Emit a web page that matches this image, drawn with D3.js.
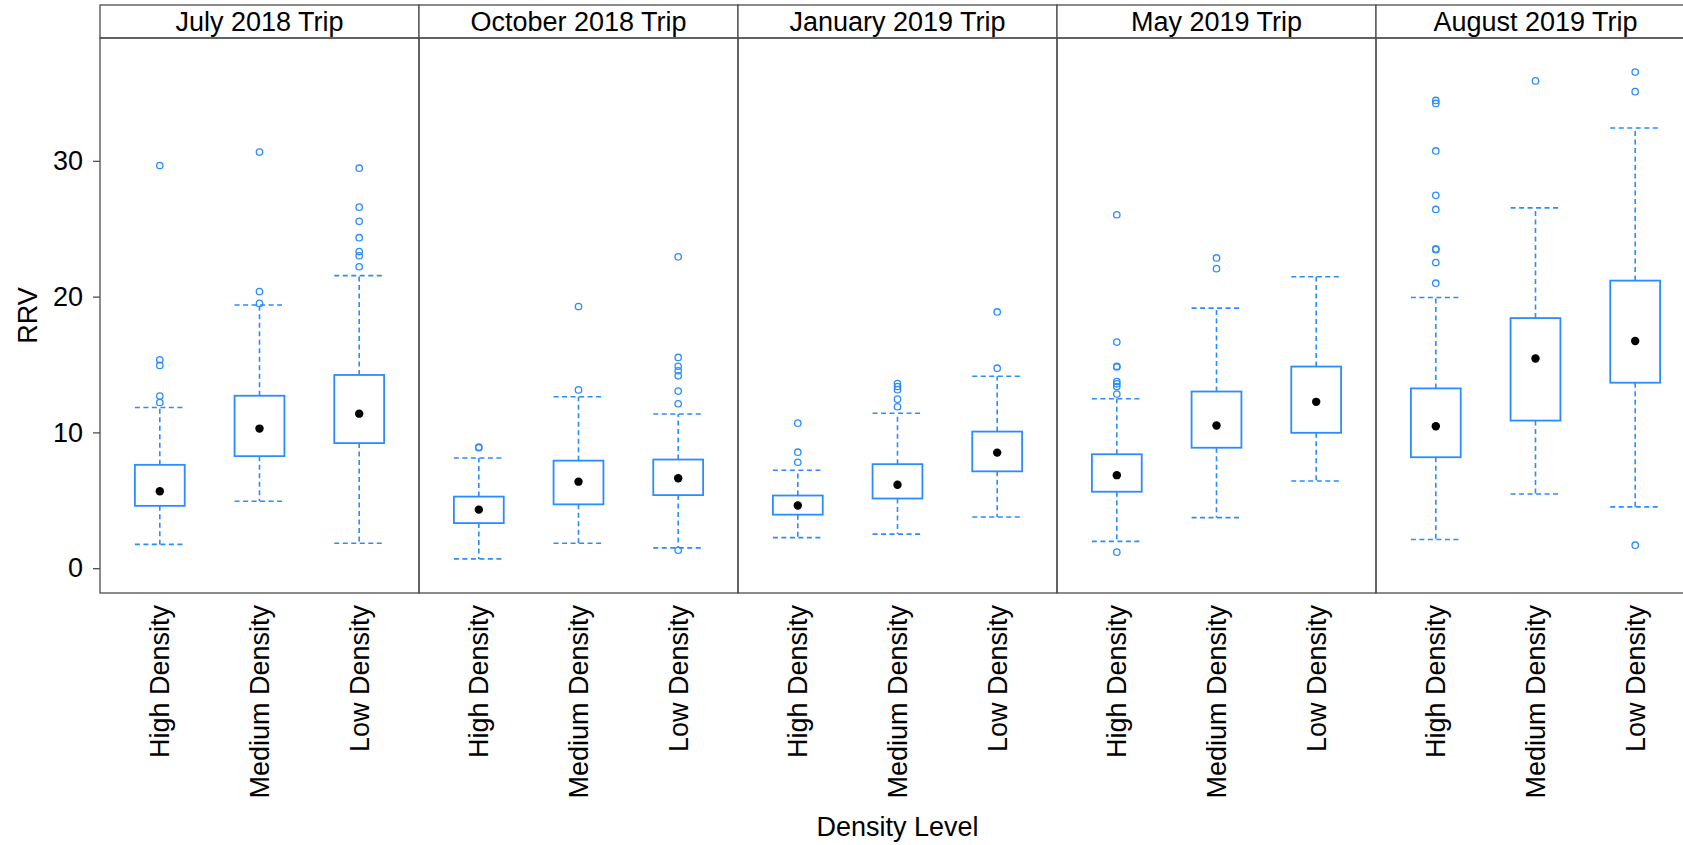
<!DOCTYPE html>
<html>
<head>
<meta charset="utf-8">
<script src="https://cdn.jsdelivr.net/npm/d3@7"></script>
<style>
  body { margin: 0; background: #fff; }
  svg { display: block; overflow: hidden; }
  text { font-family: "Liberation Sans", Arial, sans-serif; fill: #000; }
</style>
</head>
<body>
<div class="chart"></div>
<script>
var trips = ["July 2018 Trip", "October 2018 Trip", "January 2019 Trip", "May 2019 Trip", "August 2019 Trip"];
var densities = ["High Density", "Medium Density", "Low Density"];
var yTicks = [0, 10, 20, 30];

// one row per trip, one value per density level (High, Medium, Low)
var whiskerLow = [
  [1.75, 4.93, 1.83],
  [0.68, 1.83, 1.49],
  [2.25, 2.51, 3.77],
  [1.97, 3.72, 6.42],
  [2.11, 5.46, 4.51]
];
var q1 = [
  [4.59, 8.25, 9.21],
  [3.32, 4.70, 5.38],
  [3.94, 5.13, 7.13],
  [5.63, 8.87, 9.97],
  [8.17, 10.87, 13.66]
];
var medians = [
  [5.66, 10.28, 11.38],
  [4.31, 6.37, 6.62],
  [4.62, 6.14, 8.51],
  [6.85, 10.51, 12.25],
  [10.45, 15.44, 16.73]
];
var q3 = [
  [7.61, 12.70, 14.23],
  [5.27, 7.92, 8.00],
  [5.35, 7.66, 10.06],
  [8.39, 13.01, 14.85],
  [13.24, 18.42, 21.18]
];
var whiskerHigh = [
  [11.83, 19.38, 21.55],
  [8.11, 12.62, 11.35],
  [7.21, 11.41, 14.14],
  [12.48, 19.15, 21.46],
  [19.94, 26.54, 32.42]
];
var outliers = [
  [[29.66, 15.35, 14.93, 12.68, 12.2], [30.65, 20.37, 19.5], [29.46, 26.59, 25.55, 24.34, 23.32, 23.01, 22.2]],
  [[8.87, 8.92], [19.27, 13.13], [22.93, 15.52, 14.87, 14.54, 14.17, 13.04, 12.11, 1.32]],
  [[10.68, 8.54, 7.80], [13.6, 13.38, 13.15, 12.45, 11.89], [18.87, 14.73]],
  [[26.03, 16.65, 14.87, 14.82, 13.75, 13.58, 13.38, 12.82, 1.18], [22.85, 22.06], []],
  [[34.45, 34.23, 30.73, 27.46, 26.42, 23.52, 23.46, 22.51, 20.99], [35.89], [36.54, 35.1, 1.69]]
];

var width = 1683, height = 845;
var margin = { left: 100, top: 5 };
var stripH = 33;
var plotTop = margin.top + stripH, plotBottom = 593;
var panelW = 319;
var blue = "#2b8cff", border = "#4d4d4d";
var fontSize = "27px";

var svg = d3.select(".chart")
    .append("svg")
    .attr("width", width)
    .attr("height", height);

// lattice style: pad the data range by 7% on each side
var allVals = d3.merge([d3.merge(whiskerLow), d3.merge(whiskerHigh), d3.merge(d3.merge(outliers))]);
var ext = d3.extent(allVals);
var pad = (ext[1] - ext[0]) * 0.07;
var y = d3.scaleLinear().domain([ext[0] - pad, ext[1] + pad]).range([plotBottom, plotTop]);

var x = d3.scalePoint().domain(densities).range([0, panelW]).padding(0.6);
var boxW = x.step() * 0.5;

var panels = svg.selectAll("g.panel")
    .data(trips)
    .enter()
    .append("g")
    .attr("class", "panel")
    .attr("transform", function(d, i) { return "translate(" + (margin.left + i * panelW) + ",0)"; });

// strip
panels.append("rect")
    .attr("x", 0).attr("y", margin.top)
    .attr("width", panelW).attr("height", stripH)
    .attr("fill", "#fff")
    .attr("stroke", border).attr("stroke-width", 1.3);
panels.append("text")
    .attr("x", panelW / 2).attr("y", margin.top + 26)
    .attr("text-anchor", "middle")
    .style("font-size", fontSize)
    .text(function(d) { return d; });

// panel frame
panels.append("rect")
    .attr("x", 0).attr("y", plotTop)
    .attr("width", panelW).attr("height", plotBottom - plotTop)
    .attr("fill", "none")
    .attr("stroke", border).attr("stroke-width", 1.3);

panels.each(function(trip, t) {
    var g = d3.select(this);
    densities.forEach(function(dens, k) {
        var cx = x(dens);
        // whiskers
        [[q3[t][k], whiskerHigh[t][k]], [q1[t][k], whiskerLow[t][k]]].forEach(function(w) {
            g.append("line")
                .attr("x1", cx).attr("x2", cx)
                .attr("y1", y(w[0])).attr("y2", y(w[1]))
                .attr("stroke", blue).attr("stroke-width", 1.6)
                .attr("stroke-dasharray", "5,3.5");
            g.append("line")
                .attr("x1", cx - boxW / 2).attr("x2", cx + boxW / 2)
                .attr("y1", y(w[1])).attr("y2", y(w[1]))
                .attr("stroke", blue).attr("stroke-width", 1.6)
                .attr("stroke-dasharray", "5,3.5");
        });
        g.append("rect")
            .attr("x", cx - boxW / 2)
            .attr("y", y(q3[t][k]))
            .attr("width", boxW)
            .attr("height", y(q1[t][k]) - y(q3[t][k]))
            .attr("fill", "#fff")
            .attr("stroke", blue).attr("stroke-width", 1.8);
        g.append("circle")
            .attr("cx", cx).attr("cy", y(medians[t][k]))
            .attr("r", 4.2)
            .attr("fill", "#000");
        g.selectAll("circle.out" + k)
            .data(outliers[t][k])
            .enter()
            .append("circle")
            .attr("class", "out" + k)
            .attr("cx", cx).attr("cy", function(v) { return y(v); })
            .attr("r", 3.2)
            .attr("fill", "none")
            .attr("stroke", blue).attr("stroke-width", 1.3);
    });

    // category labels, rotated
    g.selectAll("text.cat")
        .data(densities)
        .enter()
        .append("text")
        .attr("class", "cat")
        .attr("transform", function(d) { return "translate(" + x(d) + "," + (plotBottom + 12) + ") rotate(-90)"; })
        .attr("text-anchor", "end")
        .attr("dy", "0.35em")
        .style("font-size", fontSize)
        .text(function(d) { return d; });
});

// y axis on the left of the first panel
var yAxis = svg.append("g")
    .attr("transform", "translate(" + margin.left + ",0)")
    .call(d3.axisLeft(y).tickValues(yTicks).tickSize(7).tickPadding(10));
yAxis.select(".domain").remove();
yAxis.selectAll("line").attr("stroke", border).attr("stroke-width", 1.3);
yAxis.selectAll("text")
    .style("font-size", fontSize)
    .style("font-family", "'Liberation Sans', Arial, sans-serif")
    .attr("fill", "#000");

svg.append("text")
    .attr("transform", "translate(28," + ((plotTop + plotBottom) / 2) + ") rotate(-90)")
    .attr("text-anchor", "middle")
    .attr("dy", "0.35em")
    .style("font-size", fontSize)
    .text("RRV");

svg.append("text")
    .attr("x", margin.left + panelW * trips.length / 2)
    .attr("y", 836)
    .attr("text-anchor", "middle")
    .style("font-size", fontSize)
    .text("Density Level");
</script>
</body>
</html>
